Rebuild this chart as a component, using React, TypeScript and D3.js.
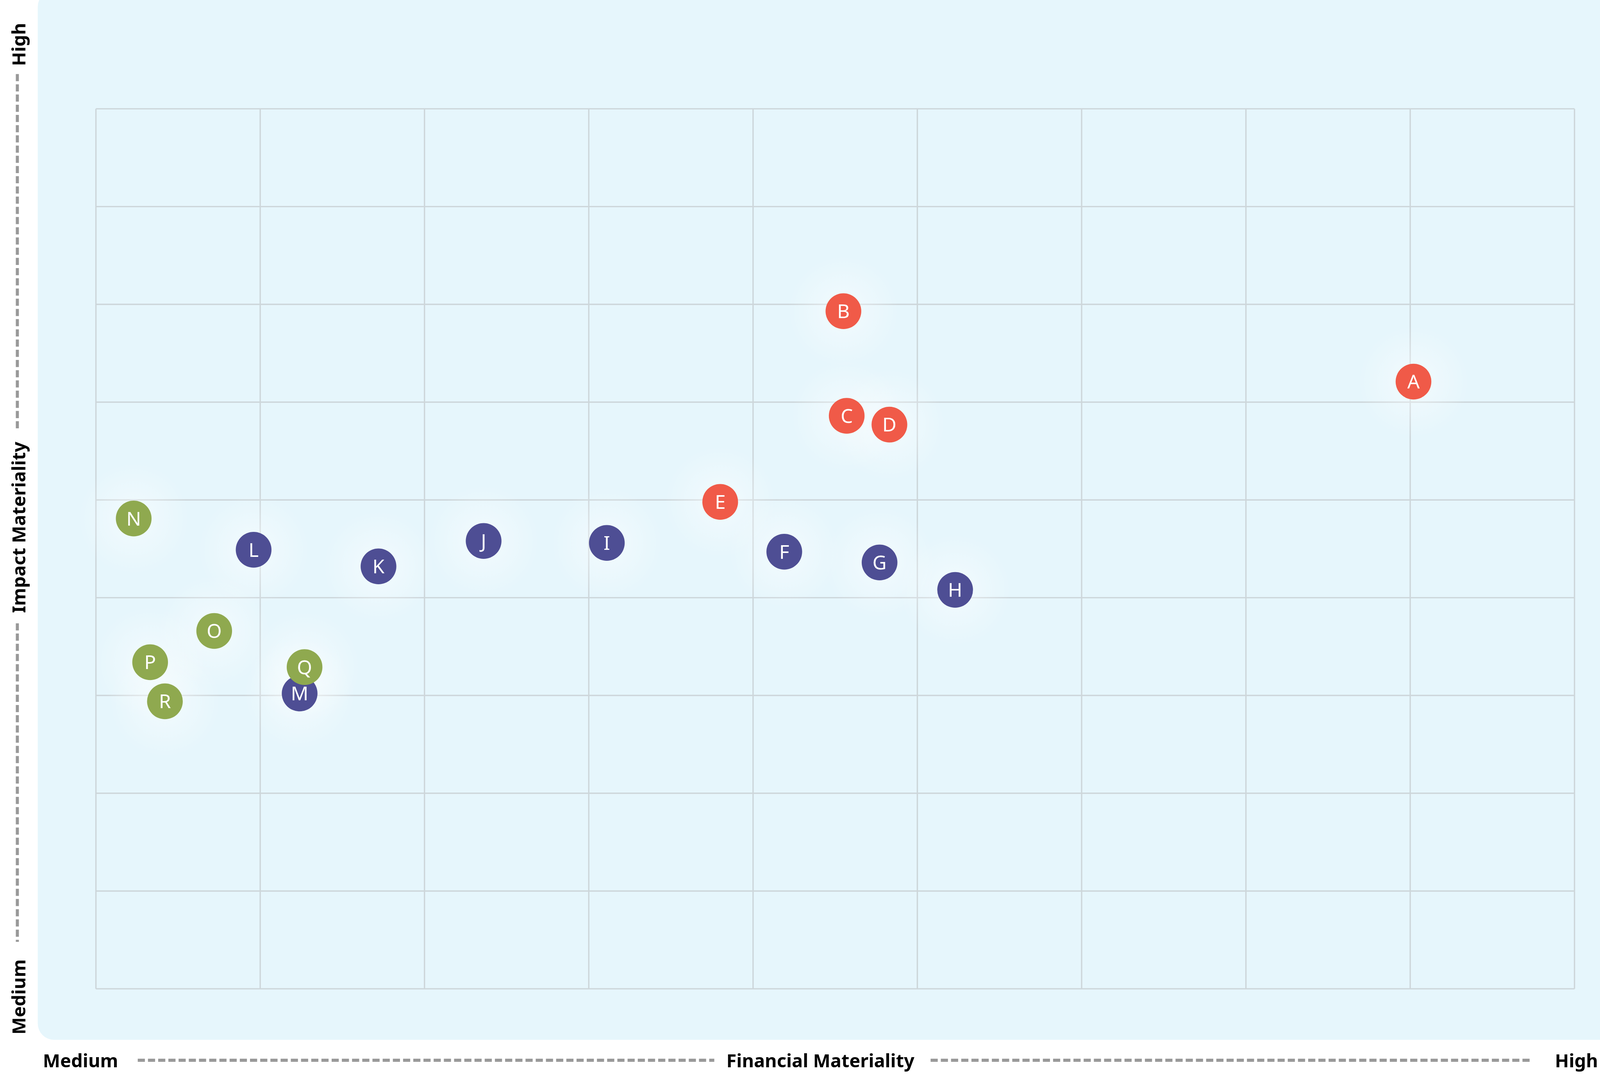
import * as d3 from "d3";

const labels = ["A", "B", "C", "D", "E", "F", "G", "H", "I", "J", "K", "L", "M", "N", "O", "P", "Q", "R"];
const financial = [8.02, 4.55, 4.57, 4.83, 3.8, 4.19, 4.77, 5.23, 3.11, 2.36, 1.72, 0.96, 1.24, 0.23, 0.72, 0.33, 1.27, 0.42];
const impact = [6.21, 6.93, 5.86, 5.77, 4.98, 4.47, 4.36, 4.08, 4.56, 4.58, 4.32, 4.49, 3.02, 4.81, 3.66, 3.34, 3.29, 2.94];
const groups = ["high", "high", "high", "high", "high", "mid", "mid", "mid", "mid", "mid", "mid", "mid", "mid", "low", "low", "low", "low", "low"];
const gridTicks = d3.range(0, 10);

const colors: Record<string, string> = { high: "#f05a48", mid: "#4e4e94", low: "#8fa94f" };

const W = 1568;
const H = 1044.6;
const plot = { left: 94, right: 1543, top: 96, bottom: 958 };

export default function App() {
  const x = d3.scaleLinear().domain([0, 9]).range([plot.left, plot.right]);
  const y = d3.scaleLinear().domain([0, 9]).range([plot.bottom, plot.top]);
  const pts = labels.map((l, i) => ({ l, x: financial[i], y: impact[i], g: groups[i] }));
  const font = "'Noto Sans', sans-serif";
  return (
    <svg viewBox={`0 0 ${W} ${H}`} style={{ position: "fixed", left: 0, top: 0, width: "100vw", height: "100vh", display: "block" }}>
      <defs>
        <radialGradient id="halo">
          <stop offset="0%" stopColor="#ffffff" stopOpacity={0.5} />
          <stop offset="100%" stopColor="#ffffff" stopOpacity={0} />
        </radialGradient>
      </defs>
      <rect x={0} y={0} width={W} height={H} fill="#fff" />
      <rect x={37} y={-20} width={1551} height={1028} rx={16} fill="#e6f6fc" />
      {gridTicks.map((t) => (
        <line key={"v" + t} x1={x(t)} x2={x(t)} y1={plot.top} y2={plot.bottom} stroke="#cdd6da" strokeWidth={1.3} />
      ))}
      {gridTicks.map((t) => (
        <line key={"h" + t} x1={plot.left} x2={plot.right} y1={y(t)} y2={y(t)} stroke="#cdd6da" strokeWidth={1.3} />
      ))}
      {pts.map((p) => (
        <circle key={"h" + p.l} cx={x(p.x)} cy={y(p.y)} r={55} fill="url(#halo)" />
      ))}
      {pts.map((p) => (
        <g key={p.l} transform={`translate(${x(p.x)},${y(p.y)})`}>
          <circle r={17.5} fill={colors[p.g]} />
          <text textAnchor="middle" dy="0.36em" fill="#fff" fontFamily={font} fontSize={19}>{p.l}</text>
        </g>
      ))}
      {/* axis labels */}
      <g fontFamily={font} fontWeight="bold" fontSize={18} fill="#000">
        <text transform="translate(25,33) rotate(-90)" textAnchor="middle">High</text>
        <text transform="translate(25,506) rotate(-90)" textAnchor="middle">Impact Materiality</text>
        <text transform="translate(25,966) rotate(-90)" textAnchor="middle">Medium</text>
        <text x={42} y={1035}>Medium</text>
        <text x={804} y={1035} textAnchor="middle">Financial Materiality</text>
        <text x={1566} y={1035} textAnchor="end">High</text>
      </g>
      <g stroke="#999" strokeWidth={3} strokeDasharray="7,3">
        <line x1={17} x2={17} y1={62} y2={410} />
        <line x1={17} x2={17} y1={600} y2={912} />
        <line x1={135} x2={700} y1={1028} y2={1028} />
        <line x1={912} x2={1500} y1={1028} y2={1028} />
      </g>
    </svg>
  );
}
